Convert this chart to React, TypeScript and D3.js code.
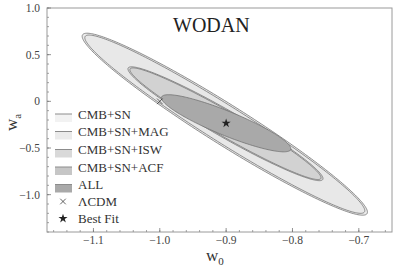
import React from "react";
import * as d3 from "d3";

// ---- data ----
const contourNames = ["CMB+SN", "CMB+SN+MAG", "CMB+SN+ISW", "CMB+SN+ACF", "ALL"];
const centerW0 = [-0.902, -0.902, -0.901, -0.901, -0.9];
const centerWa = [-0.245, -0.245, -0.24, -0.24, -0.235];
const sigmaW0 = [0.215, 0.211, 0.147, 0.144, 0.0975];
const sigmaWa = [0.975, 0.955, 0.61, 0.598, 0.306];
const rhoW0Wa = [-0.966, -0.97, -0.963, -0.967, -0.89];
const fillColors = ["#ebebeb", "#e8e8e8", "#d7d7d7", "#d2d2d2", "#a9a9a9"];
const legendSwatch = ["#f2f2f2", "#ebebeb", "#d9d9d9", "#c6c6c6", "#a9a9a9"];

const lcdmPoint = { w0: -1.0, wa: 0.0 };
const bestFit = { w0: -0.9, wa: -0.235 };

const xMajor = [-1.1, -1.0, -0.9, -0.8, -0.7];
const xMajorLabels = ["\u22121.1", "\u22121.0", "\u22120.9", "\u22120.8", "\u22120.7"];
const yMajor = [-1.0, -0.5, 0, 0.5, 1.0];
const yMajorLabels = ["\u22121.0", "\u22120.5", "0", "0.5", "1.0"];

const W = 407;
const H = 271;
const L = 47, R = 392, T = 8, B = 232;

const x = d3.scaleLinear().domain([-1.17, -0.65]).range([L, R]);
const y = d3.scaleLinear().domain([-1.4, 1.0]).range([B, T]);

const FONT = "Liberation Serif, Times New Roman, Times, serif";

function ellipsePath(i: number): string {
  const n = 240;
  const pts: [number, number][] = [];
  const s = Math.sqrt(1 - rhoW0Wa[i] * rhoW0Wa[i]);
  for (let k = 0; k < n; k++) {
    const t = (2 * Math.PI * k) / n;
    const w0 = centerW0[i] + sigmaW0[i] * Math.cos(t);
    const wa = centerWa[i] + sigmaWa[i] * (rhoW0Wa[i] * Math.cos(t) + s * Math.sin(t));
    pts.push([x(w0), y(wa)]);
  }
  return d3.line().curve(d3.curveLinearClosed)(pts) || "";
}

export default function App() {
  const xMinor = d3.range(-1.16, -0.649, 0.02).map((v) => +v.toFixed(2));
  const yMinor = d3.range(-1.4, 1.001, 0.1).map((v) => +v.toFixed(2));
  const crossPath = d3.symbol(d3.symbolTimes, 22)() || "";
  const starPath = d3.symbol(d3.symbolStar, 26)() || "";

  const legendX = 55;
  const legendTextX = 78;
  const legendRows = [114, 131.5, 149.5, 167, 184.5, 201.5, 218.5];
  const legendLabels = [...contourNames, "\u039BCDM", "Best Fit"];
  const ts = { fontFamily: FONT };

  return (
    <svg width={W} height={H} style={{ position: "absolute", left: 0, top: 0, background: "#fff" }}>
      <rect x={0} y={0} width={W} height={H} fill="#fff" />
      {/* contours */}
      <g>
        {contourNames.map((_, i) => (
          <path key={i} d={ellipsePath(i)} fill={fillColors[i]} stroke="#6e6e6e" strokeWidth={0.75} />
        ))}
      </g>
      {/* frame */}
      <rect x={L} y={T} width={R - L} height={B - T} fill="none" stroke="#9a9a9a" strokeWidth={1} />
      {/* x ticks */}
      {xMinor.map((v, i) => (
        <line key={"xm" + i} x1={x(v)} x2={x(v)} y1={B} y2={B - 2} stroke="#8a8a8a" strokeWidth={0.8} />
      ))}
      {xMajor.map((v, i) => (
        <g key={"xM" + i}>
          <line x1={x(v)} x2={x(v)} y1={B} y2={B - 4} stroke="#777" strokeWidth={0.8} />
          <text x={x(v)} y={244} textAnchor="middle" style={ts} fontSize={11.5} fill="#444">
            {xMajorLabels[i]}
          </text>
        </g>
      ))}
      {/* y ticks */}
      {yMinor.map((v, i) => (
        <line key={"ym" + i} x1={L} x2={L + 2} y1={y(v)} y2={y(v)} stroke="#8a8a8a" strokeWidth={0.8} />
      ))}
      {yMajor.map((v, i) => (
        <g key={"yM" + i}>
          <line x1={L} x2={L + 4} y1={y(v)} y2={y(v)} stroke="#777" strokeWidth={0.8} />
          <text x={40} y={y(v) + 4} textAnchor="end" style={ts} fontSize={11.5} fill="#444">
            {yMajorLabels[i]}
          </text>
        </g>
      ))}
      {/* axis titles */}
      <text x={206} y={261} style={ts} fontSize={17} fill="#333">
        w<tspan fontSize={11} dy={4}>0</tspan>
      </text>
      <text transform="translate(17,131) rotate(-90)" style={ts} fontSize={17} fill="#333">
        w<tspan fontSize={11} dy={4}>a</tspan>
      </text>
      {/* title */}
      <text x={173} y={32} style={ts} fontSize={20} fill="#222">WODAN</text>
      {/* markers */}
      <path d={crossPath} transform={`translate(${x(lcdmPoint.w0)},${y(lcdmPoint.wa)})`} fill="#222" stroke="#222" strokeWidth={0.7} />
      <path d={starPath} transform={`translate(${x(bestFit.w0)},${y(bestFit.wa)})`} fill="#222" />
      {/* legend */}
      {contourNames.map((_, i) => (
        <g key={"lg" + i}>
          <rect x={legendX} y={legendRows[i]} width={17} height={8} fill={legendSwatch[i]} />
          <line x1={legendX} x2={legendX + 17} y1={legendRows[i]} y2={legendRows[i]} stroke="#8c8c8c" strokeWidth={1} />
        </g>
      ))}
      <path d={crossPath} transform={`translate(${legendX + 8},${legendRows[5]})`} fill="#222" stroke="#222" strokeWidth={0.7} />
      <path d={starPath} transform={`translate(${legendX + 8},${legendRows[6]})`} fill="#222" />
      {legendLabels.map((lab, i) => (
        <text key={"lt" + i} x={legendTextX} y={legendRows[i] + 4.5} style={ts} fontSize={13} fill="#333">
          {lab}
        </text>
      ))}
    </svg>
  );
}
